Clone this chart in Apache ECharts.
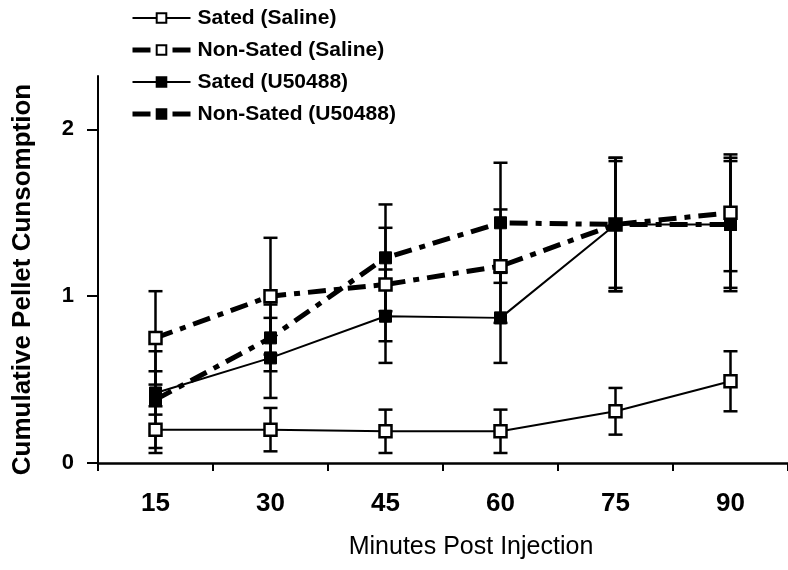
<!DOCTYPE html>
<html>
<head>
<meta charset="utf-8">
<script src="https://cdn.jsdelivr.net/npm/echarts@6/dist/echarts.min.js"></script>
<style>
  html, body { margin: 0; padding: 0; background: #fff; }
  #chart { width: 788px; height: 570px; }
</style>
</head>
<body>
<div id="chart"></div>
<script>
// Cumulative pellet consumption (mean ± SEM) by minutes after injection
const minutes = ['15', '30', '45', '60', '75', '90'];
const yTicks = [0, 1, 2];

const satedSaline = [0.20, 0.20, 0.19, 0.19, 0.31, 0.49];
const satedSalineErr = [0.14, 0.13, 0.13, 0.13, 0.14, 0.18];

const nonSatedSaline = [0.75, 1.00, 1.07, 1.18, 1.43, 1.50];
const nonSatedSalineErr = [0.28, 0.35, 0.34, 0.34, 0.40, 0.35];

const satedU50488 = [0.42, 0.63, 0.88, 0.87, 1.43, 1.43];
const satedU50488Err = [0.13, 0.24, 0.28, 0.27, 0.38, 0.38];

const nonSatedU50488 = [0.38, 0.75, 1.23, 1.44, 1.43, 1.43];
const nonSatedU50488Err = [0.29, 0.20, 0.32, 0.36, 0.40, 0.40];

const INK = '#000';
const SANS = 'Liberation Sans, Arial, sans-serif';
const DASH_DOT = [18, 8, 6, 8];

function lineSeries(name, values, open, dashed) {
  return {
    type: 'line',
    name: name,
    data: values,
    z: 3,
    symbol: 'rect',
    symbolSize: 12,
    showAllSymbol: true,
    lineStyle: {
      color: INK,
      width: dashed ? 5 : 2,
      type: dashed ? DASH_DOT : 'solid'
    },
    itemStyle: {
      color: open ? '#fff' : INK,
      borderColor: INK,
      borderWidth: open ? 2.5 : 1
    },
    emphasis: { disabled: true },
    animation: false
  };
}

function errorSeries(name, values, errs) {
  return {
    type: 'custom',
    name: name + ' SEM',
    z: 1,
    data: values.map((v, i) => [i, v - errs[i], v + errs[i]]),
    encode: { x: 0, y: [1, 2] },
    renderItem(params, api) {
      const idx = api.value(0);
      const lo = api.coord([idx, api.value(1)]);
      const hi = api.coord([idx, api.value(2)]);
      const w = 7;
      const style = { stroke: INK, lineWidth: 2.5 };
      return {
        type: 'group',
        children: [
          { type: 'line', shape: { x1: lo[0], y1: lo[1], x2: hi[0], y2: hi[1] }, style: style },
          { type: 'line', shape: { x1: lo[0] - w, y1: lo[1], x2: lo[0] + w, y2: lo[1] }, style: style },
          { type: 'line', shape: { x1: hi[0] - w, y1: hi[1], x2: hi[0] + w, y2: hi[1] }, style: style }
        ]
      };
    },
    animation: false
  };
}

const names = ['Sated (Saline)', 'Non-Sated (Saline)', 'Sated (U50488)', 'Non-Sated (U50488)'];
const dashedFlags = [false, true, false, true];

const chart = echarts.init(document.getElementById('chart'), null, { renderer: 'canvas' });
chart.setOption({
  backgroundColor: '#fff',
  animation: false,
  grid: { left: 98, right: 0, top: 76, bottom: 107, containLabel: false },
  legend: {
    data: names.map((n, i) => ({
      name: n,
      lineStyle: { color: INK, width: dashedFlags[i] ? 5 : 2, type: dashedFlags[i] ? DASH_DOT : 'solid' }
    })),
    orient: 'vertical',
    left: 130,
    top: 7,
    padding: 0,
    itemWidth: 58,
    itemHeight: 12,
    itemGap: 10,
    selectedMode: false,
    textStyle: { color: INK, fontFamily: SANS, fontWeight: 'bold', fontSize: 21, lineHeight: 22, padding: [0, 0, 0, 2] }
  },
  xAxis: {
    type: 'category',
    data: minutes,
    boundaryGap: true,
    axisLine: { lineStyle: { color: INK, width: 2.5 } },
    axisTick: { show: true, interval: 0, length: 8, lineStyle: { color: INK, width: 2 } },
    axisLabel: { color: INK, fontFamily: SANS, fontWeight: 'bold', fontSize: 26, margin: 28 },
    splitLine: { show: false },
    name: 'Minutes Post Injection',
    nameLocation: 'middle',
    nameGap: 72,
    nameTextStyle: { color: INK, fontFamily: SANS, fontSize: 25, padding: [0, 0, 0, 56] }
  },
  yAxis: {
    type: 'value',
    min: 0,
    max: 2.32,
    interval: 1,
    axisLine: { show: true, lineStyle: { color: INK, width: 2 } },
    axisTick: { show: true, length: 11, lineStyle: { color: INK, width: 2 }, customValues: yTicks },
    axisLabel: { color: INK, fontFamily: SANS, fontWeight: 'bold', fontSize: 22, margin: 24, customValues: yTicks },
    splitLine: { show: false },
    name: 'Cumulative Pellet Cunsomption',
    nameLocation: 'middle',
    nameRotate: 90,
    nameGap: 62,
    nameTextStyle: { color: INK, fontFamily: SANS, fontWeight: 'bold', fontSize: 26, padding: [0, 20, 0, 0] }
  },
  series: [
    errorSeries(names[0], satedSaline, satedSalineErr),
    errorSeries(names[1], nonSatedSaline, nonSatedSalineErr),
    errorSeries(names[2], satedU50488, satedU50488Err),
    errorSeries(names[3], nonSatedU50488, nonSatedU50488Err),
    lineSeries(names[0], satedSaline, true, false),
    lineSeries(names[1], nonSatedSaline, true, true),
    lineSeries(names[2], satedU50488, false, false),
    lineSeries(names[3], nonSatedU50488, false, true)
  ]
});
</script>
</body>
</html>
